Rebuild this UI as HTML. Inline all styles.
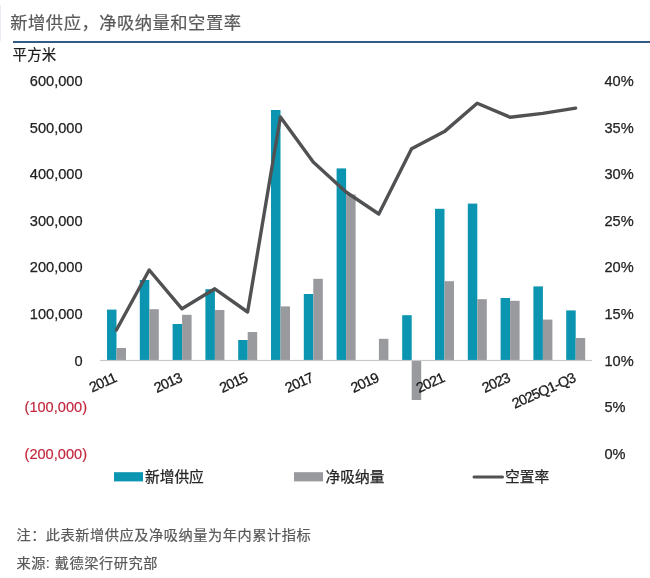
<!DOCTYPE html>
<html lang="zh-CN"><head><meta charset="utf-8"><title>新增供应，净吸纳量和空置率</title>
<style>
html,body{margin:0;padding:0;background:#fff;}
body{width:650px;height:578px;overflow:hidden;font-family:"Liberation Sans","Noto Sans CJK SC",sans-serif;}
svg{display:block}
text{font-family:"Liberation Sans","Noto Sans CJK SC",sans-serif;}
.ax{font-size:14.6px;fill:#222;stroke:#222;stroke-width:.25px}
.neg{font-size:14.6px;fill:#c3283e;stroke:#c3283e;stroke-width:.2px}
.xl{letter-spacing:-0.8px;font-size:14.3px;fill:#1a1a1a;stroke:#1a1a1a;stroke-width:.3px}
.lg{font-size:14.7px;fill:#262626;stroke:#262626;stroke-width:.25px}
.nt{font-size:14.2px;letter-spacing:.55px;fill:#595959;stroke:#595959;stroke-width:.2px}
</style></head><body>
<svg width="650" height="578" viewBox="0 0 650 578">
<rect width="650" height="578" fill="#fff"/>
<rect x="0" y="5" width="1" height="36" fill="#e9edf3"/>
<text x="10.3" y="28.5" font-size="17.3" letter-spacing=".5" fill="#5a5a5a" stroke="#5a5a5a" stroke-width=".2">新增供应，净吸纳量和空置率</text>
<rect x="13" y="41.1" width="637" height="1.8" fill="#1f4878"/>
<text x="12.6" y="60" font-size="14.4" letter-spacing=".2" fill="#1a1a1a" stroke="#1a1a1a" stroke-width=".2">平方米</text>

<text class="ax" x="82.6" y="85.9" text-anchor="end">600,000</text>
<text class="ax" x="82.6" y="132.5" text-anchor="end">500,000</text>
<text class="ax" x="82.6" y="179.1" text-anchor="end">400,000</text>
<text class="ax" x="82.6" y="225.8" text-anchor="end">300,000</text>
<text class="ax" x="82.6" y="272.4" text-anchor="end">200,000</text>
<text class="ax" x="82.6" y="319.0" text-anchor="end">100,000</text>
<text class="ax" x="82.6" y="365.6" text-anchor="end">0</text>
<text class="neg" x="87" y="412.2" text-anchor="end">(100,000)</text>
<text class="neg" x="87" y="458.9" text-anchor="end">(200,000)</text>
<text class="ax" x="604.5" y="85.9">40%</text>
<text class="ax" x="604.5" y="132.5">35%</text>
<text class="ax" x="604.5" y="179.1">30%</text>
<text class="ax" x="604.5" y="225.8">25%</text>
<text class="ax" x="604.5" y="272.4">20%</text>
<text class="ax" x="604.5" y="319.0">15%</text>
<text class="ax" x="604.5" y="365.6">10%</text>
<text class="ax" x="604.5" y="412.2">5%</text>
<text class="ax" x="604.5" y="458.9">0%</text>
<g>
<rect x="107.0" y="309.6" width="9.5" height="50.9" fill="#0b95b0"/>
<rect x="116.5" y="348.0" width="9.5" height="12.5" fill="#999a9d"/>
<rect x="139.8" y="280.0" width="9.5" height="80.5" fill="#0b95b0"/>
<rect x="149.3" y="309.2" width="9.5" height="51.3" fill="#999a9d"/>
<rect x="172.6" y="324.0" width="9.5" height="36.5" fill="#0b95b0"/>
<rect x="182.1" y="314.8" width="9.5" height="45.7" fill="#999a9d"/>
<rect x="205.4" y="289.2" width="9.5" height="71.3" fill="#0b95b0"/>
<rect x="214.9" y="310.0" width="9.5" height="50.5" fill="#999a9d"/>
<rect x="238.2" y="340.0" width="9.5" height="20.5" fill="#0b95b0"/>
<rect x="247.7" y="332.0" width="9.5" height="28.5" fill="#999a9d"/>
<rect x="271.0" y="110.0" width="9.5" height="250.5" fill="#0b95b0"/>
<rect x="280.5" y="306.4" width="9.5" height="54.1" fill="#999a9d"/>
<rect x="303.8" y="294.0" width="9.5" height="66.5" fill="#0b95b0"/>
<rect x="313.3" y="278.8" width="9.5" height="81.7" fill="#999a9d"/>
<rect x="336.6" y="168.4" width="9.5" height="192.1" fill="#0b95b0"/>
<rect x="346.1" y="194.5" width="9.5" height="166.0" fill="#999a9d"/>
<rect x="378.9" y="338.8" width="9.5" height="21.7" fill="#999a9d"/>
<rect x="402.2" y="315.2" width="9.5" height="45.3" fill="#0b95b0"/>
<rect x="411.7" y="360.5" width="9.5" height="39.5" fill="#999a9d"/>
<rect x="435.0" y="208.8" width="9.5" height="151.7" fill="#0b95b0"/>
<rect x="444.5" y="281.2" width="9.5" height="79.3" fill="#999a9d"/>
<rect x="467.8" y="203.6" width="9.5" height="156.9" fill="#0b95b0"/>
<rect x="477.3" y="299.2" width="9.5" height="61.3" fill="#999a9d"/>
<rect x="500.6" y="298.0" width="9.5" height="62.5" fill="#0b95b0"/>
<rect x="510.1" y="300.8" width="9.5" height="59.7" fill="#999a9d"/>
<rect x="533.4" y="286.4" width="9.5" height="74.1" fill="#0b95b0"/>
<rect x="542.9" y="319.6" width="9.5" height="40.9" fill="#999a9d"/>
<rect x="566.2" y="310.4" width="9.5" height="50.1" fill="#0b95b0"/>
<rect x="575.7" y="338.0" width="9.5" height="22.5" fill="#999a9d"/>
</g>
<rect x="100.0" y="359.9" width="492" height="1.2" fill="#c8c8c8"/>
<polyline points="116.4,330.0 149.2,270.0 182.0,308.8 214.8,288.8 247.6,312.0 280.4,117.0 313.2,162.0 346.0,192.0 378.8,214.0 411.6,148.8 444.4,131.6 477.2,103.2 510.0,117.2 542.8,113.4 575.6,108.1" fill="none" stroke="#505153" stroke-width="3.4" stroke-linejoin="round" stroke-linecap="round"/>
<text class="xl" text-anchor="end" transform="translate(117.2,381.3) rotate(-24)">2011</text>
<text class="xl" text-anchor="end" transform="translate(182.8,381.3) rotate(-24)">2013</text>
<text class="xl" text-anchor="end" transform="translate(248.4,381.3) rotate(-24)">2015</text>
<text class="xl" text-anchor="end" transform="translate(314.0,381.3) rotate(-24)">2017</text>
<text class="xl" text-anchor="end" transform="translate(379.6,381.3) rotate(-24)">2019</text>
<text class="xl" text-anchor="end" transform="translate(445.2,381.3) rotate(-24)">2021</text>
<text class="xl" text-anchor="end" transform="translate(510.8,381.3) rotate(-24)">2023</text>
<text class="xl" text-anchor="end" transform="translate(576.4,381.3) rotate(-24)">2025Q1-Q3</text>
<rect x="114" y="472.2" width="29" height="9.2" fill="#0b95b0"/>
<text class="lg" x="145" y="481.8">新增供应</text>
<rect x="294" y="472.2" width="29" height="9.2" fill="#999a9d"/>
<text class="lg" x="325.6" y="481.8">净吸纳量</text>
<line x1="474" y1="477.1" x2="502.5" y2="477.1" stroke="#505153" stroke-width="3" stroke-linecap="round"/>
<text class="lg" x="505" y="481.8">空置率</text>
<text class="nt" x="16.4" y="540.2">注：此表新增供应及净吸纳量为年内累计指标</text>
<text class="nt" x="16.4" y="568.4">来源: 戴德梁行研究部</text>
</svg></body></html>
